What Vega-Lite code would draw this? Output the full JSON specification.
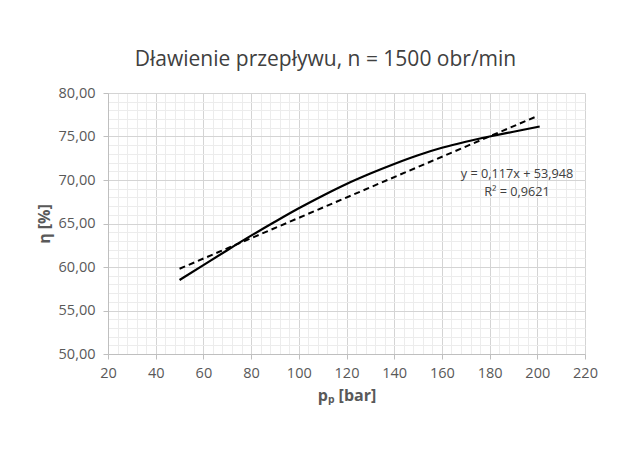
{
  "$schema": "https://vega.github.io/schema/vega-lite/v6.json",
  "width": 477,
  "height": 261,
  "autosize": "none",
  "padding": {"left": 108, "top": 93, "right": 46, "bottom": 98},
  "background": "white",
  "title": {
    "text": "Dławienie przepływu, n = 1500 obr/min",
    "font": "Open Sans",
    "fontSize": 21,
    "fontWeight": "normal",
    "color": "#404040",
    "anchor": "middle",
    "dx": -21,
    "offset": 15
  },
  "config": {
    "view": {"stroke": null},
    "font": "Open Sans"
  },
  "datasets": {
    "curve": [
      {"p": 50, "eta": 58.5},
      {"p": 60, "eta": 60.22},
      {"p": 70, "eta": 61.93},
      {"p": 80, "eta": 63.6},
      {"p": 90, "eta": 65.2},
      {"p": 100, "eta": 66.75},
      {"p": 110, "eta": 68.2},
      {"p": 120, "eta": 69.55},
      {"p": 130, "eta": 70.75},
      {"p": 140, "eta": 71.85},
      {"p": 150, "eta": 72.85},
      {"p": 160, "eta": 73.7},
      {"p": 170, "eta": 74.4},
      {"p": 180, "eta": 75.0},
      {"p": 190, "eta": 75.55},
      {"p": 201, "eta": 76.15}
    ],
    "trend": [
      {"p": 50, "eta": 59.8},
      {"p": 200, "eta": 77.35}
    ],
    "labels": [
      {"p": 191.5, "eta": 70.65, "label": "y = 0,117x + 53,948"},
      {"p": 191.5, "eta": 68.65, "label": "R² = 0,9621"}
    ]
  },
  "layer": [
    {
      "data": {"name": "curve"},
      "mark": {"type": "line", "color": "black", "strokeWidth": 2.2, "interpolate": "monotone"},
      "encoding": {
        "x": {
          "field": "p", "type": "quantitative",
          "scale": {"domain": [20, 220], "nice": false, "zero": false},
          "axis": {
            "orient": "top", "labels": false, "ticks": false, "domain": false, "title": null,
            "grid": true, "gridColor": "#ececec", "gridWidth": 1,
            "values": [20,24,28,32,36,40,44,48,52,56,60,64,68,72,76,80,84,88,92,96,100,104,108,112,116,120,124,128,132,136,140,144,148,152,156,160,164,168,172,176,180,184,188,192,196,200,204,208,212,216,220]
          }
        },
        "y": {
          "field": "eta", "type": "quantitative",
          "scale": {"domain": [50, 80], "nice": false, "zero": false},
          "axis": {
            "orient": "right", "labels": false, "ticks": false, "domain": false, "title": null,
            "grid": true, "gridColor": "#ececec", "gridWidth": 1,
            "values": [50,51,52,53,54,55,56,57,58,59,60,61,62,63,64,65,66,67,68,69,70,71,72,73,74,75,76,77,78,79,80]
          }
        }
      }
    },
    {
      "data": {"name": "trend"},
      "mark": {"type": "line", "color": "black", "strokeWidth": 2, "strokeDash": [6, 4]},
      "encoding": {
        "x": {
          "field": "p", "type": "quantitative",
          "axis": {
            "orient": "bottom",
            "values": [20,40,60,80,100,120,140,160,180,200,220],
            "labelFlush": false,
            "grid": true, "gridColor": "#d4d4d4", "gridWidth": 1,
            "domain": true, "domainColor": "#bfbfbf", "domainWidth": 1,
            "ticks": true, "tickColor": "#bfbfbf", "tickSize": 5,
            "labelFont": "Open Sans", "labelFontSize": 14.5, "labelColor": "#595959", "labelPadding": 7,
            "title": "pₚ [bar]", "titleFont": "Open Sans", "titleFontSize": 16, "titleFontWeight": "bold",
            "titleColor": "#595959", "titlePadding": 8
          }
        },
        "y": {
          "field": "eta", "type": "quantitative",
          "axis": {
            "orient": "left",
            "values": [50,55,60,65,70,75,80],
            "labelExpr": "replace(format(datum.value, '.2f'), '.', ',')",
            "grid": true, "gridColor": "#d4d4d4", "gridWidth": 1,
            "domain": true, "domainColor": "#bfbfbf", "domainWidth": 1,
            "ticks": true, "tickColor": "#bfbfbf", "tickSize": 5,
            "labelFont": "Open Sans", "labelFontSize": 14.5, "labelColor": "#595959", "labelPadding": 8,
            "title": "η [%]", "titleFont": "Open Sans", "titleFontSize": 16, "titleFontWeight": "bold",
            "titleColor": "#595959", "titlePadding": 6
          }
        }
      }
    },
    {
      "data": {"name": "labels"},
      "mark": {"type": "text", "font": "Open Sans", "fontSize": 12.7, "color": "#404040", "align": "center", "baseline": "middle"},
      "encoding": {
        "x": {"field": "p", "type": "quantitative", "axis": null},
        "y": {"field": "eta", "type": "quantitative", "axis": null},
        "text": {"field": "label", "type": "nominal"}
      }
    }
  ],
  "resolve": {"axis": {"x": "independent", "y": "independent"}}
}
